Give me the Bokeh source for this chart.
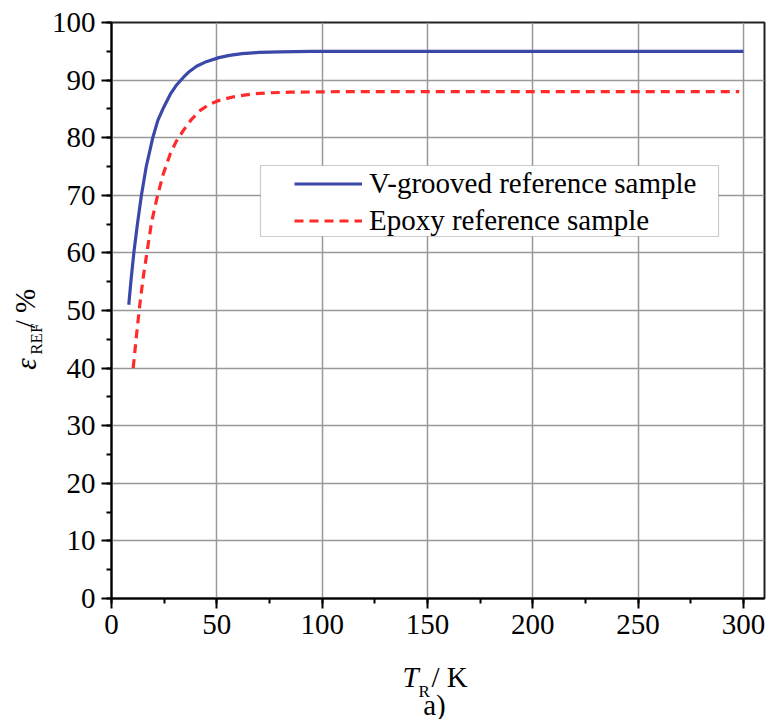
import math
from bokeh.plotting import figure
from bokeh.layouts import row, column
from bokeh.models import (Range1d, SingleIntervalTicker, Legend, LegendItem,
                          BoxAnnotation)
from bokeh.core.properties import value
from bokeh.embed import file_html
from bokeh.resources import INLINE

# ---- data ----
vgroove_T = [8.2, 9.2, 10.6, 12.3, 14.2, 16.5, 19.6, 22.0, 24.8, 28.0, 31.0,
             34.2, 37.0, 40.4, 45.0, 51.0, 56.0, 62.0, 70.0, 80.0, 95.0, 300.0]
vgroove_eps = [51.0, 55.0, 60.0, 65.0, 70.0, 75.0, 80.0, 83.0, 85.3, 87.6, 89.2,
               90.5, 91.5, 92.4, 93.2, 93.9, 94.3, 94.6, 94.8, 94.9, 95.0, 95.0]

epoxy_T = [10.3, 11.9, 13.5, 15.0, 17.0, 19.0, 21.7, 24.5, 27.9, 30.8, 34.2,
           38.0, 42.0, 46.0, 51.3, 58.0, 67.0, 75.0, 85.0, 110.0, 298.0]
epoxy_eps = [40.0, 45.8, 51.2, 55.6, 60.5, 65.3, 69.7, 73.6, 77.2, 79.4, 81.3,
             83.2, 84.7, 85.7, 86.5, 87.1, 87.6, 87.8, 87.9, 88.0, 88.0]

series_labels = ["V-grooved reference sample", "Epoxy reference sample"]
x_title = ["T", "R", "/ K"]
y_title = ["ε", "REF", "/ %"]
caption = "a)"
x_major = 50
y_major = 10

FONT = "Liberation Serif"
FS = "29px"
SUB = "17px"

# ---- main plot ----
p = figure(width=718, height=650, x_range=Range1d(0, 310), y_range=Range1d(0, 100),
           output_backend="svg", toolbar_location=None, title=None,
           min_border_left=60, min_border_right=2, min_border_top=22,
           min_border_bottom=52)
p.background_fill_color = "white"
p.border_fill_color = "white"
p.outline_line_color = "#222222"
p.outline_line_width = 2

p.xaxis.ticker = SingleIntervalTicker(interval=x_major, num_minor_ticks=2)
p.yaxis.ticker = SingleIntervalTicker(interval=y_major, num_minor_ticks=2)

for ax in (p.xaxis[0], p.yaxis[0]):
    ax.axis_line_color = "black"
    ax.axis_line_width = 2
    ax.major_tick_in = 0
    ax.major_tick_out = 10
    ax.minor_tick_in = 0
    ax.minor_tick_out = 5
    ax.major_tick_line_width = 2
    ax.minor_tick_line_width = 2
    ax.major_tick_line_color = "black"
    ax.minor_tick_line_color = "black"
    ax.major_label_text_font = FONT
    ax.major_label_text_font_size = FS
    ax.major_label_text_color = "black"
p.xaxis.major_label_standoff = 6
p.yaxis.major_label_standoff = 6

p.grid.grid_line_color = "#999999"
p.grid.grid_line_width = 1.5

r1 = p.line(vgroove_T, vgroove_eps, line_color="#3a48a8", line_width=3.2)
r2 = p.line(epoxy_T, epoxy_eps, line_color="#ff2b2b", line_width=3.2,
            line_dash="9 6")

# legend frame
box = BoxAnnotation(left=149, right=607, top=433, bottom=362,
                    left_units="screen", right_units="screen",
                    top_units="screen", bottom_units="screen",
                    fill_color="white", fill_alpha=1.0,
                    line_color="#555555", line_width=1.2)
p.add_layout(box)

legend = Legend(items=[LegendItem(label=series_labels[0], renderers=[r1]),
                       LegendItem(label=series_labels[1], renderers=[r2])],
                location=(183, 359), padding=0, spacing=0,
                label_height=37, glyph_height=37, glyph_width=68,
                label_standoff=7, border_line_alpha=0,
                background_fill_alpha=0,
                label_text_font=FONT, label_text_font_size=FS,
                label_text_color="black")
p.add_layout(legend, "center")


def text_panel(w, h):
    f = figure(width=w, height=h, x_range=Range1d(0, w), y_range=Range1d(0, h),
               output_backend="svg", toolbar_location=None, title=None,
               x_axis_type=None, y_axis_type=None, min_border=0)
    f.outline_line_color = None
    f.background_fill_color = "white"
    f.border_fill_color = "white"
    return f


# ---- y-axis title panel (left) ----
YH = 650
yl = text_panel(48, YH)
rot = math.pi / 2
yl.text(x=[25], y=[258], text=[y_title[0]], angle=rot,
        text_font=value(FONT), text_font_style="italic", text_font_size=FS,
        text_baseline="middle", text_align="left", text_color="black")
yl.text(x=[36], y=[275], text=[y_title[1]], angle=rot,
        text_font=value(FONT), text_font_size=SUB,
        text_baseline="middle", text_align="left", text_color="black")
yl.text(x=[24], y=[305], text=[y_title[2]], angle=rot,
        text_font=value(FONT), text_font_size=FS,
        text_baseline="middle", text_align="left", text_color="black")

# ---- x-axis title + caption panel (below) ----
XH = 69
xl = text_panel(766, XH)
xl.text(x=[402], y=[43], text=[x_title[0]],
        text_font=value(FONT), text_font_style="italic", text_font_size=FS,
        text_baseline="middle", text_align="left", text_color="black")
xl.text(x=[418], y=[28], text=[x_title[1]],
        text_font=value(FONT), text_font_size=SUB,
        text_baseline="middle", text_align="left", text_color="black")
xl.text(x=[431], y=[43], text=[x_title[2]],
        text_font=value(FONT), text_font_size=FS,
        text_baseline="middle", text_align="left", text_color="black")
xl.text(x=[434], y=[15], text=[caption],
        text_font=value(FONT), text_font_size=FS,
        text_baseline="middle", text_align="center", text_color="black")

layout = column(row(yl, p), xl)
open("out.html", "w").write(file_html(layout, INLINE))
